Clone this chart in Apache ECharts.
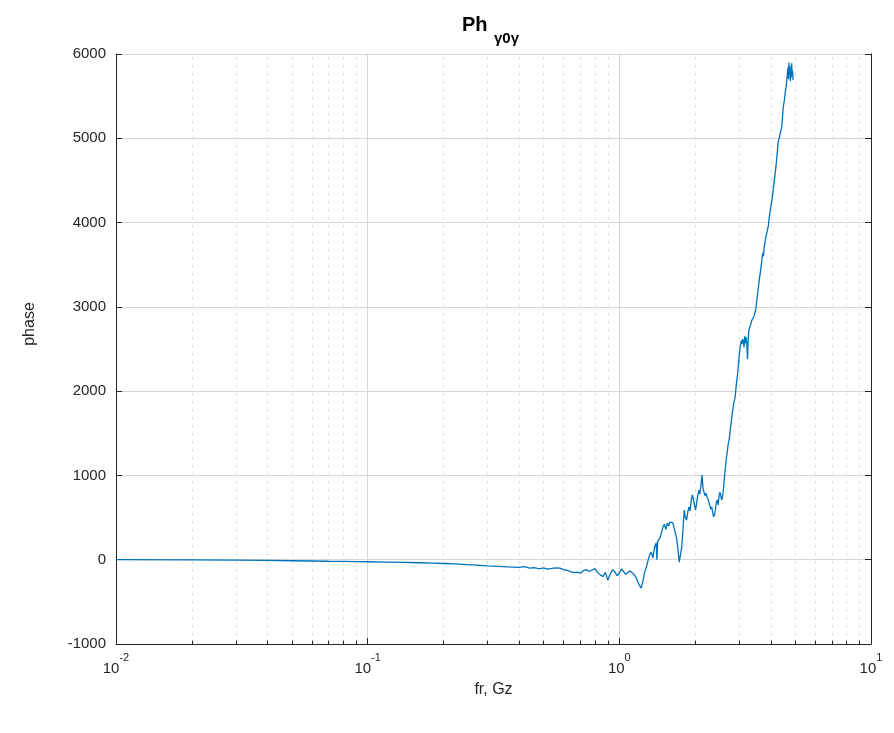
<!DOCTYPE html>
<html>
<head>
<meta charset="utf-8">
<script src="https://cdn.jsdelivr.net/npm/echarts@6/dist/echarts.min.js"></script>
<style>
  html, body { margin: 0; padding: 0; background: #fff; }
  #chart { width: 894px; height: 733px; }
</style>
</head>
<body>
<div id="chart"></div>
<script>
// Frequency samples (GHz) and unwrapped phase values
const freq = [
  0.01, 0.02, 0.03, 0.04, 0.05, 0.06, 0.07, 0.08, 0.09, 0.10,
  0.12, 0.14, 0.16, 0.18, 0.20, 0.22, 0.25, 0.28, 0.30, 0.33,
  0.36, 0.40, 0.42, 0.44, 0.46, 0.48, 0.50, 0.52, 0.54, 0.56,
  0.58, 0.60, 0.62, 0.64, 0.66, 0.68, 0.70, 0.72, 0.74, 0.76,
  0.78, 0.80, 0.82, 0.84, 0.86, 0.88, 0.90, 0.92, 0.94, 0.96,
  0.98, 1.00, 1.02, 1.04, 1.06, 1.08, 1.10, 1.12, 1.14, 1.16,
  1.18, 1.20, 1.22, 1.24, 1.26, 1.28, 1.30, 1.32, 1.34, 1.36,
  1.38, 1.40, 1.41, 1.42, 1.45, 1.47, 1.49, 1.51, 1.53, 1.55,
  1.57, 1.59, 1.61, 1.63, 1.65, 1.67, 1.69, 1.71, 1.73, 1.75,
  1.77, 1.79, 1.81, 1.83, 1.85, 1.87, 1.89, 1.91, 1.93, 1.95,
  1.97, 1.99, 2.01, 2.03, 2.05, 2.07, 2.09, 2.11, 2.13, 2.15,
  2.17, 2.19, 2.21, 2.23, 2.25, 2.27, 2.29, 2.31, 2.33, 2.35,
  2.37, 2.39, 2.41, 2.43, 2.45, 2.47, 2.49, 2.51, 2.53, 2.55,
  2.57, 2.59, 2.61, 2.63, 2.65, 2.67, 2.69, 2.71, 2.73, 2.75,
  2.77, 2.79, 2.81, 2.83, 2.85, 2.87, 2.89, 2.91, 2.93, 2.95,
  2.97, 2.99, 3.01, 3.03, 3.05, 3.07, 3.09, 3.11, 3.13, 3.15,
  3.17, 3.19, 3.21, 3.23, 3.25, 3.27, 3.30, 3.33, 3.36, 3.39,
  3.42, 3.45, 3.48, 3.51, 3.54, 3.57, 3.60, 3.63, 3.66, 3.69,
  3.72, 3.74, 3.76, 3.79, 3.82, 3.85, 3.88, 3.91, 3.93, 3.96,
  3.99, 4.02, 4.04, 4.07, 4.10, 4.13, 4.16, 4.19, 4.22, 4.25,
  4.27, 4.30, 4.33, 4.36, 4.39, 4.42, 4.45, 4.48, 4.51, 4.54,
  4.57, 4.60, 4.63, 4.66, 4.68, 4.70, 4.72, 4.74, 4.76, 4.78,
  4.80, 4.82, 4.84, 4.86, 4.88, 4.90
];
const phase = [
  0, -3, -6, -9, -12, -15, -18, -20, -22, -24,
  -28, -32, -36, -40, -45, -50, -58, -66, -72, -78,
  -84, -90, -82, -100, -95, -108, -98, -112, -104, -96,
  -100, -118, -125, -140, -152, -148, -160, -130, -118, -140,
  -122, -105, -150, -180, -200, -150, -240, -170, -120, -145,
  -190, -160, -110, -140, -175, -150, -135, -150, -170, -200,
  -250, -300, -336, -260, -150, -90, -10, 60, 90, 20,
  150, 200, 0, 220, 257, 320, 387, 420, 360, 435,
  400, 447, 430, 440, 380, 316, 250, 120, -30, 60,
  150, 350, 590, 500, 470, 560, 625, 580, 700, 770,
  720, 640, 590, 680, 760, 826, 780, 880, 1005, 850,
  803, 760, 790, 744, 720, 680, 640, 600, 625, 560,
  507, 540, 600, 680, 708, 650, 760, 803, 760, 708,
  750, 820, 945, 1050, 1147, 1230, 1300, 1380, 1420, 1500,
  1580, 1660, 1740, 1800, 1860, 1895, 1950, 2050, 2130, 2200,
  2300, 2400, 2490, 2540, 2600, 2560, 2620, 2580, 2520, 2650,
  2570, 2640, 2560, 2380, 2600, 2720, 2760, 2800, 2840, 2830,
  2880, 2925, 2960, 3050, 3150, 3230, 3330, 3400, 3480, 3580,
  3640, 3600, 3700, 3760, 3830, 3870, 3920, 3960, 4030, 4100,
  4170, 4230, 4265, 4340, 4420, 4500, 4580, 4660, 4760, 4860,
  4940, 4980, 5020, 5060, 5100, 5130, 5250, 5370, 5420, 5480,
  5560, 5610, 5700, 5780, 5840, 5700, 5900, 5750, 5860, 5680,
  5820, 5720, 5890, 5740, 5800, 5690
];
// Minor decade positions for dotted grid lines
const minorTicks = [
  0.02, 0.03, 0.04, 0.05, 0.06, 0.07, 0.08, 0.09,
  0.2, 0.3, 0.4, 0.5, 0.6, 0.7, 0.8, 0.9,
  2, 3, 4, 5, 6, 7, 8, 9
];
const yTicks = { min: -1000, max: 6000, step: 1000 };

const FONT = '"Liberation Sans", Arial, Helvetica, sans-serif';
const AXIS_COLOR = '#262626';

const chart = echarts.init(document.getElementById('chart'), null, { renderer: 'canvas' });

const lineData = freq.map((f, i) => [f, phase[i]]);

const option = {
  animation: false,
  backgroundColor: '#ffffff',
  title: [
    {
      text: 'Ph',
      left: 457, top: 10,
      textStyle: { fontFamily: FONT, fontSize: 20, fontWeight: 'bold', color: '#000' }
    },
    {
      text: 'γ0γ',
      left: 489, top: 26,
      textStyle: { fontFamily: FONT, fontSize: 15, fontWeight: 'bold', color: '#000' }
    }
  ],
  grid: { left: 116, right: 23, top: 54, bottom: 89, containLabel: false },
  xAxis: {
    type: 'log',
    logBase: 10,
    min: 0.01,
    max: 10,
    interval: 1,
    name: 'fr, Gz',
    nameLocation: 'middle',
    nameGap: 38,
    nameTextStyle: { fontFamily: FONT, fontSize: 16, color: AXIS_COLOR },
    axisLine: { show: true, onZero: false, lineStyle: { color: AXIS_COLOR, width: 1 } },
    axisTick: { show: true, inside: true, length: 6, lineStyle: { color: AXIS_COLOR } },
    axisLabel: {
      margin: 8,
      color: AXIS_COLOR,
      formatter: function (v) {
        const e = Math.round(Math.log10(v));
        return '{b|10}{s|' + e + '}';
      },
      rich: {
        b: { fontFamily: FONT, fontSize: 15, color: AXIS_COLOR, lineHeight: 24, verticalAlign: 'bottom' },
        s: { fontFamily: FONT, fontSize: 11, color: AXIS_COLOR, lineHeight: 12, verticalAlign: 'top' }
      }
    },
    splitLine: { show: true, lineStyle: { color: '#d6d6d6', width: 1, type: 'solid' } },
    minorTick: { show: false },
    minorSplitLine: { show: false }
  },
  yAxis: [
    {
      type: 'value',
      min: yTicks.min,
      max: yTicks.max,
      interval: yTicks.step,
      name: 'phase',
      nameLocation: 'middle',
      nameGap: 78,
      nameTextStyle: { fontFamily: FONT, fontSize: 16, color: AXIS_COLOR, padding: [0, 0, 0, 50] },
      axisLine: { show: true, onZero: false, lineStyle: { color: AXIS_COLOR, width: 1 } },
      axisTick: { show: true, inside: true, length: 6, lineStyle: { color: AXIS_COLOR } },
      axisLabel: {
        fontFamily: FONT, fontSize: 15, color: AXIS_COLOR, margin: 10,
        formatter: v => String(v)
      },
      splitLine: { show: true, lineStyle: { color: '#d6d6d6', width: 1 } }
    },
    {
      type: 'value',
      position: 'right',
      min: yTicks.min,
      max: yTicks.max,
      interval: yTicks.step,
      axisLine: { show: true, onZero: false, lineStyle: { color: AXIS_COLOR, width: 1 } },
      axisTick: { show: true, inside: true, length: 6, lineStyle: { color: AXIS_COLOR } },
      axisLabel: { show: false },
      splitLine: { show: false }
    }
  ],
  series: [
    {
      // dotted minor grid and small inward minor ticks along the bottom axis
      type: 'line',
      data: [],
      silent: true,
      markLine: {
        silent: true,
        symbol: ['none', 'none'],
        label: { show: false },
        animation: false,
        data: minorTicks.map(x => ({ xAxis: x, lineStyle: { color: '#dcdcdc', width: 1, type: [3, 5] } }))
          .concat(minorTicks.map(x => [
            { coord: [x, yTicks.min], lineStyle: { color: AXIS_COLOR, width: 1, type: 'solid' } },
            { coord: [x, yTicks.min + 40] }
          ]))
      }
    },
    {
      name: 'phase',
      type: 'line',
      data: lineData,
      showSymbol: false,
      symbol: 'none',
      lineStyle: { color: '#0072BD', width: 1.3 },
      z: 5
    }
  ]
};

chart.setOption(option);
</script>
</body>
</html>
